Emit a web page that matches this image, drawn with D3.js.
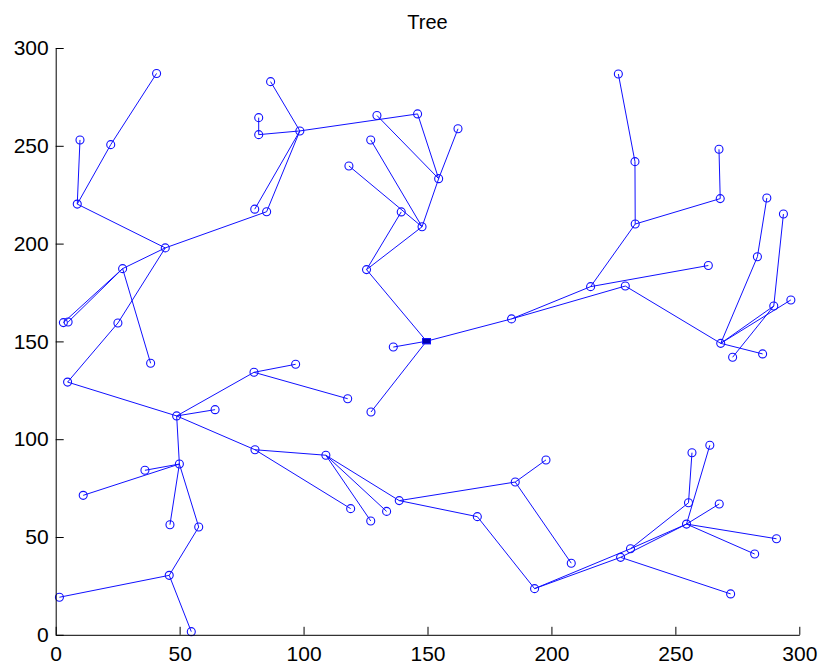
<!DOCTYPE html>
<html>
  <head>
    <meta charset="UTF-8" />
    <script src="https://d3js.org/d3.v7.min.js"></script>
    <style>
      body { margin: 0; background: #fff; }
      text { font-family: Arial, "Liberation Sans", sans-serif; }
    </style>
  </head>
  <body>
    <div id="my_dataviz"></div>
    <script>
      // node ids and positions (data units)
      const nodeIds = ["A","B","C","D","E","F","G","H","I","J","K","L","M","N","O","P","Q","R","S","T","U",
        "V","W1","W2","X","Y","Z","AA","AB","AC","AD","AE","AF","AG","AH","AI","AJ","AK","AL","AM","AN","AO",
        "AP","AQ","AR","AS","AT","AU","AV","AW","AX","AY","AZ","BA","BB","BC","BD","BE","BF","BG","BH","BI","BJ",
        "BK","BL","BM","BN","BO","BP","BQ","BR","BS","BT","BU","BV","BW","BX","BY","BZ","CA"];
      const nodeX = [40.7,22.2,8.7,9.8,44.2,85.1,80.3,98.5,86.7,81.9,81.9,129.6,146,154.5,162.3,147.8,127.1,118.3,139.4,125.4,149.6,
        27,3.1,5,25.1,38.3,4.8,48.8,64.3,80,96.8,117.8,127.2,136.2,49.9,36,11.1,46.1,57.7,45.8,1.5,54.7,
        80.4,109,119,127.1,133.5,138.6,170.1,185.4,197.8,208,193.2,227.9,231.9,254.5,255.3,256.7,263.9,267.7,290.8,282,272.3,
        215.8,229.8,263.3,268.3,183.9,233.8,227,233.7,268.1,267.6,286.9,283.1,293.6,289.7,296.6,285.2,273.1];
      const nodeY = [287,250.6,220.2,253,197.8,216.3,217.6,257.6,282.8,264.4,255.7,265.5,266.3,233.2,258.7,208.6,253,239.7,216.2,186.7,150.1,
        187.2,159.6,159.9,159.4,138.8,129.2,111.9,115.1,134.2,138.3,120.7,113.9,147.1,87.3,84.1,71.3,56.3,55.1,30.4,19.2,1.6,
        94.6,91.8,64.5,58.2,63.1,68.6,60.4,78.1,89.4,36.6,23.6,39.6,44,56.6,67.5,93.1,96.9,66.9,49.1,41.3,20.9,
        178,178.3,188.8,149,161.5,210,286.7,241.9,223,248.2,223.3,193.3,215.1,168.1,171.2,143.6,141.9];
      const rootId = "U";

      // edges (from, to)
      const edgeFrom = ["A","B","D","C","E","H","H","I","J","K","H","L","M","O","N","Q","R","T","T","T",
        "E","V","V","V","E","X","Z","AA","AA","AC","AC","AA","AA","AH","AH","AH","AH","AL","AM","AM",
        "AP","AP","AQ","AQ","AQ","AU","AU","AW","AW","AV","AZ","AZ","BA","BB","BB","BA","BD","BC","BC","BC","BC",
        "AG","AF","U","BO","BO","BK","BL","BK","BQ","BR","BP","BS","BU","BV","BW","BN","BN","CA","BN"];
      const edgeTo = ["B","C","C","E","F","G","F","H","K","H","M","N","N","N","P","P","P","S","P","U",
        "V","W1","W2","Y","X","Z","AA","AB","AC","AD","AE","AH","AP","AI","AJ","AK","AL","AM","AN","AO",
        "AQ","AR","AS","AT","AU","AW","AV","AX","AY","AZ","BA","BB","BC","BC","BD","BJ","BE","BF","BG","BH","BI",
        "U","U","BO","BK","BL","BM","BN","BP","BR","BP","BS","BT","BV","BN","BX","BX","BY","BX","BZ"];

      const xTicks = [0, 50, 100, 150, 200, 250, 300];
      const yTicks = [0, 50, 100, 150, 200, 250, 300];

      const W = 822, H = 666;
      const svg = d3.select("#my_dataviz").append("svg")
        .attr("width", W).attr("height", H);

      const xScale = d3.scaleLinear().domain([0, 300]).range([55.7, 799.3]);
      const yScale = d3.scaleLinear().domain([0, 300]).range([634.8, 48]);

      const pos = {};
      nodeIds.forEach((id, i) => { pos[id] = [nodeX[i], nodeY[i]]; });

      // edges
      svg.append("g")
        .selectAll("line")
        .data(edgeFrom.map((f, i) => [f, edgeTo[i]]))
        .join("line")
        .attr("x1", d => xScale(pos[d[0]][0]))
        .attr("y1", d => yScale(pos[d[0]][1]))
        .attr("x2", d => xScale(pos[d[1]][0]))
        .attr("y2", d => yScale(pos[d[1]][1]))
        .attr("stroke", "#1010ff")
        .attr("stroke-width", 1);

      // node markers
      svg.append("g")
        .selectAll("circle")
        .data(nodeIds.filter(id => id !== rootId))
        .join("circle")
        .attr("cx", d => xScale(pos[d][0]))
        .attr("cy", d => yScale(pos[d][1]))
        .attr("r", 4)
        .attr("fill", "none")
        .attr("stroke", "#1010ff")
        .attr("stroke-width", 1.1);

      // root marker
      svg.append("rect")
        .attr("x", xScale(pos[rootId][0]) - 4)
        .attr("y", yScale(pos[rootId][1]) - 2.7)
        .attr("width", 8)
        .attr("height", 5.4)
        .attr("fill", "#0000b0")
        .attr("stroke", "#1010ff")
        .attr("stroke-width", 1);

      // axes
      const xAxis = d3.axisBottom(xScale).tickValues(xTicks)
        .tickSizeInner(-8).tickSizeOuter(0).tickPadding(11);
      const yAxis = d3.axisLeft(yScale).tickValues(yTicks)
        .tickSizeInner(-8).tickSizeOuter(0).tickPadding(7);

      const gx = svg.append("g").attr("transform", "translate(0," + yScale(0) + ")").call(xAxis);
      const gy = svg.append("g").attr("transform", "translate(" + xScale(0) + ",0)").call(yAxis);
      [gx, gy].forEach(g => {
        g.selectAll("text").attr("font-size", 21).attr("fill", "#000")
          .attr("font-family", "Arial, 'Liberation Sans', sans-serif");
        g.selectAll("path,line").attr("stroke", "#000");
      });

      // title
      svg.append("text")
        .attr("x", (xScale(0) + xScale(300)) / 2)
        .attr("y", 29)
        .attr("text-anchor", "middle")
        .attr("font-size", 20)
        .attr("fill", "#000")
        .text("Tree");
    </script>
  </body>
</html>
